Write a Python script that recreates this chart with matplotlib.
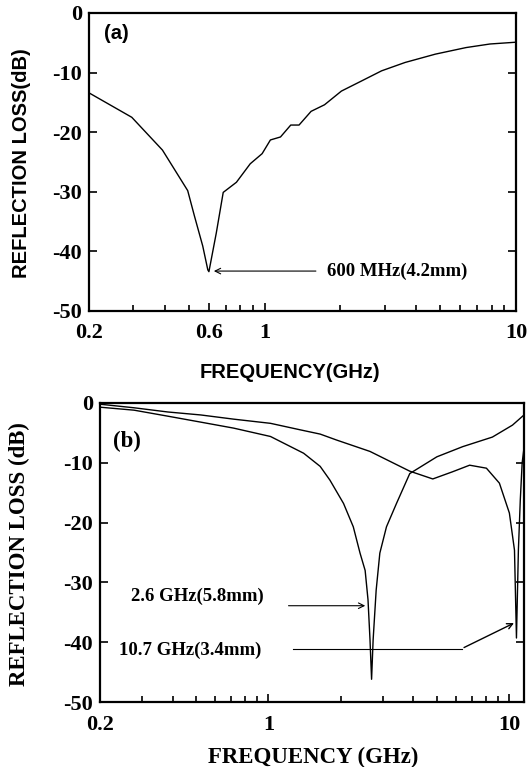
import matplotlib
matplotlib.use("Agg")
import matplotlib.pyplot as plt
from matplotlib.ticker import FixedLocator, LogLocator, NullFormatter, FuncFormatter

# panel (a) curve
freq_a = [0.2, 0.296, 0.392, 0.494, 0.525, 0.567, 0.594, 0.60, 0.642, 0.684,
          0.772, 0.876, 0.977, 1.054, 1.156, 1.27, 1.37, 1.53, 1.73, 2.02,
          2.43, 2.92, 3.62, 4.78, 6.33, 7.88, 10.0]
rl_a = [-13.4, -17.5, -23.0, -29.8, -34.0, -39.1, -43.1, -43.4, -36.9, -30.1,
        -28.4, -25.3, -23.6, -21.3, -20.8, -18.8, -18.8, -16.5, -15.4, -13.1,
        -11.4, -9.7, -8.3, -6.9, -5.8, -5.2, -4.9]

# panel (b), 3.4 mm sample (dip near 10.7 GHz)
freq_b1 = [0.2, 0.277, 0.382, 0.524, 0.717, 1.02, 1.36, 1.64, 1.92, 2.64, 3.86,
           4.81, 5.81, 6.84, 8.03, 9.09, 10.0, 10.5, 10.7, 10.9, 11.1, 11.3, 11.5]
rl_b1 = [-0.2, -0.8, -1.5, -2.0, -2.7, -3.4, -4.5, -5.2, -6.2, -8.1, -11.4,
         -12.7, -11.5, -10.4, -10.9, -13.4, -18.4, -24.6, -39.3, -24.6, -16.2, -10.0, -7.5]

# panel (b), 5.8 mm sample (dip near 2.6 GHz)
freq_b2 = [0.2, 0.277, 0.382, 0.524, 0.717, 1.02, 1.40, 1.64, 1.80, 2.05, 2.25,
           2.40, 2.52, 2.59, 2.64, 2.68, 2.72, 2.80, 2.90, 3.09, 3.40, 3.86,
           5.0, 6.4, 8.5, 10.3, 11.5]
rl_b2 = [-0.7, -1.2, -2.2, -3.2, -4.2, -5.6, -8.4, -10.6, -12.9, -16.8, -20.7,
         -25.1, -28.0, -32.9, -39.6, -46.2, -39.6, -31.3, -25.1, -20.7, -16.8, -11.8,
         -9.0, -7.3, -5.7, -3.7, -2.0]

yticks = [0, -10, -20, -30, -40, -50]
xticks_a = [0.2, 0.6, 1, 10]
xticks_b = [0.2, 1, 10]

serif = ["Liberation Serif", "DejaVu Serif"]
sans = ["Liberation Sans", "DejaVu Sans"]


def fmt(v, pos):
    return "%g" % v


def style_axes(ax, xmax, xticks):
    ax.set_xscale("log")
    ax.set_xlim(0.2, xmax)
    ax.set_ylim(-50, 0)
    ax.xaxis.set_major_locator(FixedLocator(xticks))
    ax.xaxis.set_major_formatter(FuncFormatter(fmt))
    ax.xaxis.set_minor_locator(LogLocator(base=10, subs=range(2, 10)))
    ax.xaxis.set_minor_formatter(NullFormatter())
    ax.set_yticks(yticks)
    ax.set_yticklabels(["%d" % t for t in yticks])
    ax.tick_params(which="both", direction="in", top=False, right=True, width=1.2)
    ax.tick_params(which="major", length=6)
    ax.tick_params(which="minor", length=4)
    ax.tick_params(axis="x", pad=9)
    ax.tick_params(axis="y", pad=5)
    for lab in ax.get_xticklabels() + ax.get_yticklabels():
        lab.set_fontfamily(serif)
        lab.set_fontweight("bold")
        lab.set_fontsize(16)
    for sp in ax.spines.values():
        sp.set_linewidth(1.6)


fig = plt.figure(figsize=(5.29, 7.67), dpi=100)
W, H = 529.0, 767.0

# ---- (a)
ax1 = fig.add_axes([89 / W, 1 - 311 / H, 427 / W, 298 / H])
ax1.plot(freq_a, rl_a, color="black", lw=1.0)
style_axes(ax1, 10, xticks_a)
ax1.annotate("", xy=(0.612, -43.3), xytext=(1.64, -43.3),
             arrowprops=dict(arrowstyle="->", color="black", lw=0.8))
ax1.text(1.77, -43.3, "600 MHz(4.2mm)", ha="left", va="center",
         fontfamily=serif, fontweight="bold", fontsize=13.5)
ax1.text(0.035, 0.93, "(a)", transform=ax1.transAxes, ha="left", va="center",
         fontfamily=sans, fontweight="bold", fontsize=14.5)
fig.text(290 / W, 1 - 372 / H, "FREQUENCY(GHz)", ha="center", va="center",
         fontfamily=sans, fontweight="bold", fontsize=14.5)
fig.text(22 / W, 1 - 163 / H, "REFLECTION LOSS(dB)", ha="center", va="center",
         rotation=90, fontfamily=sans, fontweight="bold", fontsize=14.5)

# ---- (b)
ax2 = fig.add_axes([100 / W, 1 - 702 / H, 424 / W, 299 / H])
ax2.plot(freq_b1, rl_b1, color="black", lw=1.0)
ax2.plot(freq_b2, rl_b2, color="black", lw=1.0)
style_axes(ax2, 11.5, xticks_b)
ax2.annotate("", xy=(2.59, -33.9), xytext=(1.18, -33.9),
             arrowprops=dict(arrowstyle="->", color="black", lw=0.8))
ax2.text(0.269, -32.3, "2.6 GHz(5.8mm)", ha="left", va="center",
         fontfamily=serif, fontweight="bold", fontsize=13.5)
ax2.plot([1.26, 6.33], [-41.1, -41.1], color="black", lw=0.8)
ax2.annotate("", xy=(10.7, -36.6), xytext=(6.33, -41.1),
             arrowprops=dict(arrowstyle="->", color="black", lw=1.0))
ax2.text(0.24, -41.3, "10.7 GHz(3.4mm)", ha="left", va="center",
         fontfamily=serif, fontweight="bold", fontsize=13.5)
ax2.text(0.03, 0.87, "(b)", transform=ax2.transAxes, ha="left", va="center",
         fontfamily=serif, fontweight="bold", fontsize=16.5)
fig.text(313 / W, 1 - 757 / H, "FREQUENCY (GHz)", ha="center", va="center",
         fontfamily=serif, fontweight="bold", fontsize=16.5)
fig.text(19 / W, 1 - 554 / H, "REFLECTION LOSS (dB)", ha="center", va="center",
         rotation=90, fontfamily=serif, fontweight="bold", fontsize=16.5)

fig.savefig("out.png", dpi=100)
